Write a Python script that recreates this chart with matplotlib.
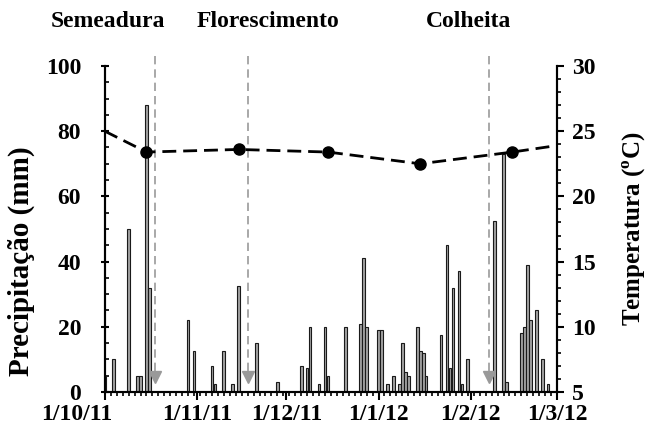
import numpy as np
import matplotlib
matplotlib.use("Agg")
import matplotlib.pyplot as plt
import matplotlib.transforms as mtransforms
from matplotlib.ticker import MultipleLocator

# Daily rain (days counted from 1 Oct 2011)
rain_day = [0, 3, 8, 11, 12, 14, 15, 28, 30, 36, 37, 40, 43, 45, 51, 58,
            66, 68, 69, 72, 74, 75, 81, 86, 87, 88, 92, 93, 95, 97, 99, 100,
            101, 102, 105, 106, 107, 108, 113, 115, 116, 117, 119, 120, 122,
            131, 134, 135, 140, 141, 142, 143, 145, 147, 149]
rain_mm = [5, 10, 50, 5, 5, 88, 32, 22, 12.5, 8, 2.5, 12.5, 2.5, 32.5, 15, 3,
           8, 7.5, 20, 2.5, 20, 5, 20, 21, 41, 20, 19, 19, 2.5, 5, 2.5, 15,
           6, 5, 20, 12.5, 12, 5, 17.5, 45, 7.5, 32, 37, 2.5, 10,
           52.5, 73, 3, 18, 20, 39, 22, 25, 10, 2.5]

# Mean monthly temperature
temp_day = [0, 14, 45, 75, 106, 137, 152]
temp_c = [25.0, 23.4, 23.6, 23.4, 22.5, 23.4, 23.9]
temp_marked = [False, True, True, True, True, True, False]

# Crop stages
stage_day = [17, 48, 129]
stage_label = ["Semeadura", "Florescimento", "Colheita"]
stage_text_x = [1.2, 54.7, 122.4]

month_day = [0, 31, 61, 92, 123, 152]
month_label = ["1/10/11", "1/11/11", "1/12/11", "1/1/12", "1/2/12", "1/3/12"]

plt.rcParams['font.family'] = ['Liberation Serif', 'DejaVu Serif']
plt.rcParams['font.weight'] = 'bold'
plt.rcParams['mathtext.fontset'] = 'custom'
plt.rcParams['mathtext.rm'] = 'Liberation Serif:bold'
plt.rcParams['mathtext.bf'] = 'Liberation Serif:bold'

fig = plt.figure(figsize=(6.47, 4.37), dpi=100)
ax = fig.add_axes([0.162, 0.103, 0.699, 0.746])
ax2 = ax.twinx()

ax.bar(rain_day, rain_mm, width=0.9, color='#a3a3a3', edgecolor='#1a1a1a',
       linewidth=0.8, zorder=2)

for d in stage_day:
    ax.plot([d, d], [103, 6], color='#999999', lw=1.2, ls=(0, (5, 3)),
            clip_on=False, zorder=3)
    ax.plot([d], [4.5], marker='v', color='#999999', ms=9, zorder=3)
for x, lab in zip(stage_text_x, stage_label):
    ax.text(x, 1.135, lab, transform=ax.get_xaxis_transform(), ha='center',
            va='center', fontsize=17, fontweight='bold')

ax2.plot(temp_day, temp_c, color='black', lw=2, ls=(0, (5, 2.5)), zorder=4)
md = [d for d, m in zip(temp_day, temp_marked) if m]
mt = [t for t, m in zip(temp_c, temp_marked) if m]
ax2.plot(md, mt, 'o', color='black', ms=8, zorder=5)

ax.set_xlim(0, 152)
ax.set_ylim(0, 100)
ax2.set_ylim(5, 30)

ax.set_xticks(month_day)
ax.set_xticklabels(month_label)
ax.xaxis.set_minor_locator(MultipleLocator(2))
ax.yaxis.set_major_locator(MultipleLocator(20))
ax.yaxis.set_minor_locator(MultipleLocator(5))
ax2.yaxis.set_major_locator(MultipleLocator(5))
ax2.yaxis.set_minor_locator(MultipleLocator(1))

for a in (ax, ax2):
    a.spines['top'].set_visible(False)
    for s in a.spines.values():
        s.set_linewidth(1.5)
    a.set_facecolor('none')
ax.tick_params(axis='x', which='major', direction='out', length=6, width=1.5,
               labelsize=17, pad=3)
ax.tick_params(axis='x', which='minor', direction='out', length=3, width=1.2)
ax.tick_params(axis='y', which='major', direction='inout', length=6, width=1.5,
               labelsize=17, pad=14)
ax.tick_params(axis='y', which='minor', direction='in', length=3, width=1.2)
ax2.tick_params(axis='y', which='major', direction='out', length=5, width=1.5,
                labelsize=17, pad=6)
ax2.tick_params(axis='y', which='minor', direction='out', length=3, width=1.2)

# first date label sits left of its tick in the original
first = ax.get_xticklabels()[0]
first.set_transform(first.get_transform() +
                    mtransforms.ScaledTranslation(-0.28, 0, fig.dpi_scale_trans))

ax.set_ylabel('Precipitação (mm)', fontsize=21, fontweight='bold')
ax.yaxis.set_label_coords(-0.155, 0.40)
ax2.set_ylabel('Temperatura ($^{\\rm o}$C)', fontsize=18, fontweight='bold',
               labelpad=18)

fig.savefig('out.png', dpi=100)
